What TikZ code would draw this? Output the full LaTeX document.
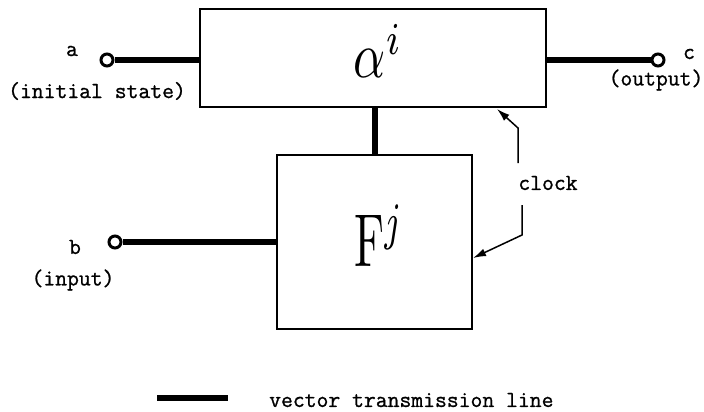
\documentclass[tikz,border=0pt]{standalone}
\usepackage{fontspec}
\newfontfamily\typewriter[FakeBold=1]{Latin Modern Mono}
\usetikzlibrary{arrows.meta, positioning}
\tikzset{
  block/.style={draw, line width=1.6pt, rectangle, inner sep=0pt}, % the two boxes
  terminal/.style={draw, circle, line width=3pt, fill=white,
    minimum size=12pt, inner sep=0pt}, % open end of a line
  vec/.style={line width=6pt}, % vector transmission line
  clockline/.style={line width=1.5pt, -{Latex[length=13pt, width=8pt]}},
  tag/.style={font=\typewriter\fontsize{23}{25}\selectfont, inner sep=1pt},
  symbol/.style={inner sep=0pt},
}
\begin{document}
\begin{tikzpicture}[x=1pt, y=-1pt]
  \useasboundingbox (0,0) rectangle (704,412);
  % blocks
  \node[block, minimum width=346pt, minimum height=98pt] (alpha) at (373,58) {};
  \node[block, minimum width=195pt, minimum height=174pt] (F) at (374.5,242) {};
  \node[symbol] (alphasym) at (378,51)
    {\scalebox{5}[6.5]{$\alpha^{i}$}};
  \node[symbol] (Fsym) at (379,236)
    {\scalebox{4.6}[7.5]{$\mathrm{F}^{j}$}};

  % terminals and vector lines
  \node[terminal] (a) at (107,60) {};
  \node[terminal] (c) at (658,60) {};
  \node[terminal] (b) at (115,242) {};
  \draw[vec] (a.east) -- (a -| alpha.west);
  \draw[vec] (c.west) -- (c -| alpha.east);
  \draw[vec] (b.east) -- (b -| F.west);
  \draw[vec] (F.north) -- (F.north |- alpha.south);

  \node[tag] (alab) at (72,51) {a};
  \node[tag] (ainfo) at (97,91) {(initial state)};
  \node[tag] (clab) at (689,54) {c};
  \node[tag] (cinfo) at (656,80) {(output)};
  \node[tag] (blab) at (75,247) {b};
  \node[tag] (binfo) at (73,280) {(input)};

  % clock
  \node[tag] (clock) at (548,183) {clock};
  \coordinate (ck1) at (518,163);
  \coordinate (ck2) at (518,128);
  \coordinate (ckA) at (497,109);
  \coordinate (ck3) at (522,205);
  \coordinate (ck4) at (522,235);
  \coordinate (ckB) at (473,258);
  \draw[clockline] (ck1) -- (ck2) -- (ckA);
  \draw[clockline] (ck3) -- (ck4) -- (ckB);

  % legend
  \coordinate (leg1) at (157,398);
  \coordinate (leg2) at (228,398);
  \draw[vec] (leg1) -- (leg2);
  \node[tag, anchor=west] (legtext) at (268,400) {vector transmission line};
\end{tikzpicture}
\end{document}
